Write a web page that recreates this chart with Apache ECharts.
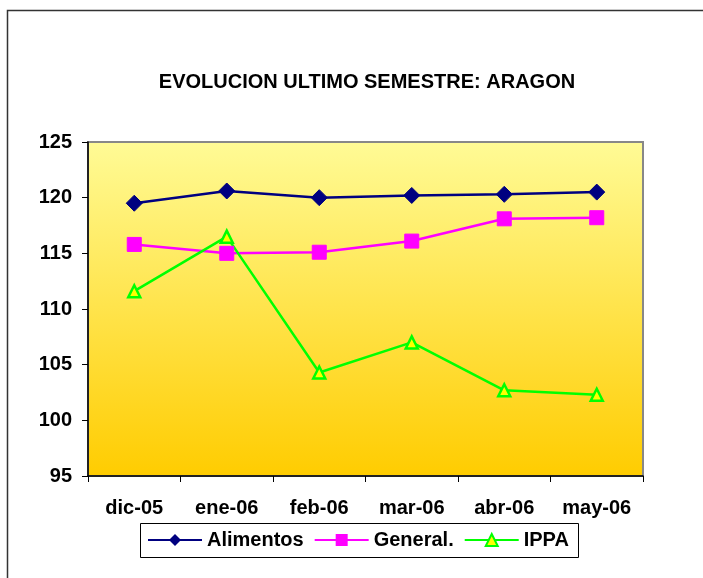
<!DOCTYPE html>
<html>
<head>
<meta charset="utf-8">
<script src="https://cdn.jsdelivr.net/npm/echarts@6/dist/echarts.min.js"></script>
<style>
html,body{margin:0;padding:0;background:#fff;}
#chart{width:703px;height:578px;}
</style>
</head>
<body>
<div id="chart"></div>
<script>
var categories = ['dic-05','ene-06','feb-06','mar-06','abr-06','may-06'];
var alimentos = [119.5, 120.6, 120.0, 120.2, 120.3, 120.5];
var general = [115.8, 115.0, 115.1, 116.1, 118.1, 118.2];
var ippa = [111.6, 116.5, 104.3, 107.0, 102.7, 102.3];
var yTicks = [95, 100, 105, 110, 115, 120, 125];

var font = 'Liberation Sans, Arial, sans-serif';
var chart = echarts.init(document.getElementById('chart'), null, {renderer:'canvas'});
chart.setOption({
  animation: false,
  backgroundColor: '#ffffff',
  title: {
    text: 'EVOLUCION ULTIMO SEMESTRE: ARAGON',
    left: 362, top: 67, textAlign: 'center',
    textStyle: {fontFamily: font, fontWeight: 'bold', fontSize: 20, color: '#000'}
  },
  graphic: [
    {type:'rect', shape:{x:7.5, y:10.5, width:720, height:620}, style:{fill:null, stroke:'#333', lineWidth:1.5}, z:-1},
    {type:'rect', shape:{x:140.5, y:523.5, width:438, height:34}, style:{fill:'#fff', stroke:'#000', lineWidth:1}, z:1}
  ],
  grid: {left: 88, top: 142, right: 60, bottom: 102, containLabel: false,
    show: true, borderColor: '#888', borderWidth: 2,
    backgroundColor: new echarts.graphic.LinearGradient(0,0,0,1,[
      {offset:0, color:'#FFFB96'},
      {offset:1, color:'#FFCC00'}
    ])
  },
  legend: {
    left: 147, top: 530, padding: 0, itemGap: 10, itemWidth: 54, itemHeight: 15,
    textStyle: {fontFamily: font, fontWeight: 'bold', fontSize: 20, color: '#000'},
    data: ['Alimentos','General.','IPPA'], z: 3
  },
  xAxis: {
    type: 'category', data: categories, boundaryGap: true,
    axisLine: {lineStyle: {color: '#000', width: 1.5}},
    axisTick: {show: true, alignWithLabel: false, length: 6, lineStyle: {color:'#000'}},
    axisLabel: {fontFamily: font, fontWeight: 'bold', fontSize: 20, color: '#000', margin: 22}
  },
  yAxis: {
    type: 'value', min: 95, max: 125, interval: 5,
    axisLine: {show: true, lineStyle: {color: '#000', width: 1.5}},
    axisTick: {show: true, length: 6, lineStyle: {color:'#000'}},
    splitLine: {show: false},
    axisLabel: {fontFamily: font, fontWeight: 'bold', fontSize: 20, color: '#000', margin: 16,
      formatter: function(v){ return yTicks.indexOf(v) >= 0 ? String(v) : ''; }}
  },
  series: [
    {name:'Alimentos', type:'line', data: alimentos, symbol:'diamond', symbolSize: 16,
      lineStyle:{color:'#000080', width:2.5}, itemStyle:{color:'#000080', borderColor:'#000080'}},
    {name:'General.', type:'line', data: general, symbol:'rect', symbolSize: 14,
      lineStyle:{color:'#FF00FF', width:2.5}, itemStyle:{color:'#FF00FF', borderColor:'#FF00FF'}},
    {name:'IPPA', type:'line', data: ippa, symbol:'triangle', symbolSize: 12,
      lineStyle:{color:'#00FF00', width:2.5}, itemStyle:{color:'#FFFF00', borderColor:'#00FF00', borderWidth:2.5}}
  ]
});
</script>
</body>
</html>
